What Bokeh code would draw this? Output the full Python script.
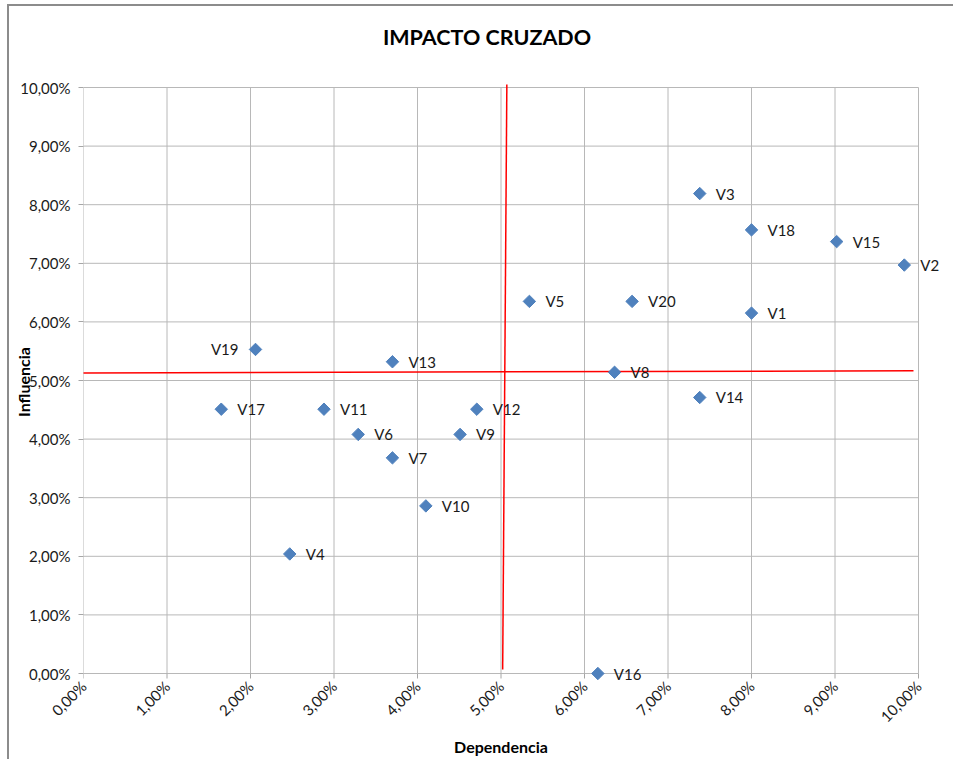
import math
from bokeh.plotting import figure
from bokeh.models import ColumnDataSource, CustomJSTickFormatter, FixedTicker, Range1d
from bokeh.core.properties import value
from bokeh.embed import file_html
from bokeh.resources import INLINE

# ---- data (percent units) ----
names = ["V1", "V2", "V3", "V4", "V5", "V6", "V7", "V8", "V9", "V10",
         "V11", "V12", "V13", "V14", "V15", "V16", "V17", "V18", "V19", "V20"]
dependencia = [8.00, 9.83, 7.38, 2.47, 5.34, 3.29, 3.70, 6.36, 4.51, 4.10,
               2.88, 4.71, 3.70, 7.38, 9.02, 6.16, 1.65, 8.00, 2.06, 6.57]
influencia = [6.15, 6.97, 8.19, 2.04, 6.35, 4.08, 3.68, 5.14, 4.08, 2.86,
              4.51, 4.51, 5.32, 4.71, 7.37, 0.00, 4.51, 7.57, 5.53, 6.35]
left_labeled = ["V19"]

# hand-drawn red cross lines
cross_v_x = [5.07, 5.02]
cross_v_y = [10.05, 0.07]
cross_h_x = [-0.03, 9.94]
cross_h_y = [5.13, 5.165]

ticks = [0, 1, 2, 3, 4, 5, 6, 7, 8, 9, 10]
axis_min, axis_max = 0, 10
title_text = "IMPACTO CRUZADO"
x_title = "Dependencia"
y_title = "Influencia"

FONT = "Lato"

# ---- layout geometry (pixels) ----
PLOT_W, PLOT_H = 835, 586          # size of the 0..10 x 0..10 plot area
PAD_R, PAD_T, PAD_B = 28, 81, 84   # frame padding so outside texts are not clipped
TICK = 5
ux = (axis_max - axis_min) / PLOT_W
uy = (axis_max - axis_min) / PLOT_H
x_end = axis_max + PAD_R * ux
y_start = axis_min - PAD_B * uy
y_end = axis_max + PAD_T * uy

align = ["right" if n in left_labeled else "left" for n in names]
xoff = [-17 if n in left_labeled else 16 for n in names]
src = ColumnDataSource(dict(x=dependencia, y=influencia, name=names,
                            align=align, xoff=xoff))

FW, FH = PLOT_W + PAD_R, PLOT_H + PAD_T + PAD_B
p = figure(width=74 + FW + 7, height=FH + 2, output_backend="svg", toolbar_location=None,
           x_range=Range1d(axis_min, x_end), y_range=Range1d(y_start, y_end),
           min_border_left=74, min_border_right=7, min_border_top=0,
           min_border_bottom=2, frame_width=FW, frame_height=FH)
p.styles = {"margin-left": "7px", "margin-top": "4px",
            "border-left": "2px solid #8c8c8c", "border-top": "2px solid #8c8c8c"}
p.outline_line_color = None
p.xgrid.visible = False
p.ygrid.visible = False

fmt = CustomJSTickFormatter(code="return tick.toFixed(2).replace('.', ',') + '%';")
for ax in (p.xaxis[0], p.yaxis[0]):
    ax.ticker = FixedTicker(ticks=ticks)
    ax.formatter = fmt
    ax.bounds = (axis_min, axis_max)
    ax.major_label_text_font = FONT
    ax.major_label_text_font_size = "15px"
    ax.major_label_text_color = "#1a1a1a"
    ax.axis_line_color = None
    ax.minor_tick_line_color = None
    ax.minor_tick_out = 0
    ax.minor_tick_in = 0
    ax.axis_label_text_font = FONT
    ax.axis_label_text_font_size = "16px"
    ax.axis_label_text_font_style = "bold"
    ax.axis_label_text_color = "#000000"

p.yaxis.major_tick_line_color = "#a6a6a6"
p.yaxis.major_tick_out = TICK
p.yaxis.major_tick_in = 0
p.yaxis.major_label_standoff = 8
p.yaxis.axis_label = y_title
p.yaxis.axis_label_standoff = -16

# x axis sits at the padded frame bottom: labels pulled up to just below the 0 line
p.xaxis.major_tick_line_color = None
p.xaxis.major_tick_out = 0
p.xaxis.major_tick_in = 0
p.xaxis.major_label_standoff = 2 * TICK - PAD_B
p.xaxis.major_label_orientation = math.pi / 4

# gridlines / plot-area box
n = len(ticks)
p.segment(x0=ticks, y0=[axis_min] * n, x1=ticks, y1=[axis_max] * n,
          line_color="#b8b8b8", line_width=1)
p.segment(x0=[axis_min] * n, y0=ticks, x1=[axis_max] * n, y1=ticks,
          line_color="#b8b8b8", line_width=1)
# x-axis tick marks below the 0 line
p.segment(x0=ticks, y0=[axis_min] * n, x1=ticks, y1=[axis_min - TICK * uy] * n,
          line_color="#a6a6a6", line_width=1)

p.line(cross_v_x, cross_v_y, line_color="#ff0000", line_width=1.5)
p.line(cross_h_x, cross_h_y, line_color="#ff0000", line_width=1.5)

p.scatter("x", "y", source=src, marker="square", size=8.8, angle=math.pi / 4,
          fill_color="#4f81bd", line_color="#4f81bd")
p.text("x", "y", text="name", source=src, x_offset="xoff", text_align="align",
       text_baseline="middle", text_font=value(FONT), text_font_size="15px",
       text_color="#1a1a1a")

# chart title and x-axis title (placed in the padded frame area)
p.text(x=[(axis_min + axis_max) / 2], y=[axis_max], text=[title_text],
       x_offset=-14, y_offset=-51, text_align="center", text_baseline="middle",
       text_font=value(FONT), text_font_size="21.5px", text_font_style="bold",
       text_color="#000000")
p.text(x=[(axis_min + axis_max) / 2], y=[axis_min], text=[x_title],
       y_offset=73, text_align="center", text_baseline="middle",
       text_font=value(FONT), text_font_size="16px", text_font_style="bold",
       text_color="#000000")

open("out.html", "w").write(file_html(p, INLINE))
